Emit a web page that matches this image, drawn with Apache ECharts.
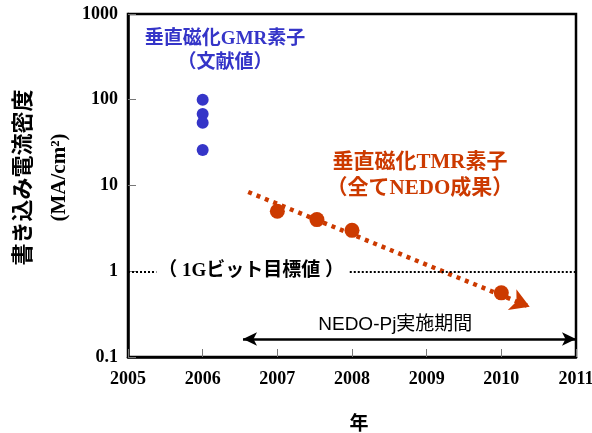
<!DOCTYPE html>
<html><head><meta charset="utf-8">
<script src="https://cdn.jsdelivr.net/npm/echarts@6/dist/echarts.min.js"></script>
<style>html,body{margin:0;padding:0;background:#fff}#c{width:592px;height:433px}</style>
</head><body><div id="c"></div>
<script>
// ---- data ----
const xTicks = [2005, 2006, 2007, 2008, 2009, 2010, 2011];
const yTicks = [0.1, 1, 10, 100, 1000];
const gmrPoints = [[2006, 100], [2006, 68], [2006, 54], [2006, 26]];
const tmrPoints = [[2007, 5], [2007.53, 4], [2008, 3], [2010, 0.56]];
const trendStart = [2006.61, 8.4];
const trendEnd = [2010.38, 0.385];
const targetValue = 1;
const targetSegments = [[2005, 2005.38], [2007.97, 2011]];
const periodStart = 2006.54;
const periodEnd = 2011;
const periodValue = 0.162;
const gmrLabel = ['垂直磁化GMR素子', '（文献値）'];
const gmrLabelAt = [2006.3, 370];
const tmrLabel = ['垂直磁化TMR素子', '（全てNEDO成果）'];
const tmrLabelAt = [2008.91, 13.2];
const targetLabel = '（ 1Gビット目標値 ）';
const targetLabelAt = [2006.65, 1];
const periodLabel = 'NEDO-Pj実施期間';
const periodLabelAt = [2008.58, 0.236];
const yName = ['書き込み電流密度', '(MA/cm²)'];
const xName = '年';

const serifCJK = '"Liberation Serif", "Noto Sans CJK JP", serif';
const sansCJK = '"Liberation Sans", "Noto Sans CJK JP", sans-serif';
const blue = '#3535c8';
const orange = '#cc3a00';

const chart = echarts.init(document.getElementById('c'));
chart.setOption({
  animation: false,
  grid: { left: 128, top: 14, right: 16, bottom: 76, show: true, borderColor: '#000', borderWidth: 2.5,
    containLabel: false, outerBoundsMode: 'none' },
  xAxis: {
    type: 'value', min: xTicks[0], max: xTicks[xTicks.length - 1], interval: 1,
    axisLine: { lineStyle: { color: '#000', width: 2.5 } },
    axisTick: { inside: true, length: 8, lineStyle: { color: '#777' } },
    splitLine: { show: false },
    axisLabel: { color: '#000', fontFamily: serifCJK, fontWeight: 'bold', fontSize: 18, margin: 13,
      formatter: v => String(v) },
    name: xName, nameLocation: 'middle', nameGap: 58,
    nameTextStyle: { color: '#000', fontFamily: sansCJK, fontWeight: 'bold', fontSize: 19, padding: [0, 0, 0, 14] }
  },
  yAxis: {
    type: 'log', logBase: 10, min: yTicks[0], max: yTicks[yTicks.length - 1],
    axisLine: { lineStyle: { color: '#000', width: 2.5 } },
    axisTick: { inside: true, length: 8, lineStyle: { color: '#777' } },
    splitLine: { show: false },
    axisLabel: { color: '#000', fontFamily: serifCJK, fontWeight: 'bold', fontSize: 18, margin: 10,
      formatter: v => (yTicks.includes(+v) ? String(+v) : '') },
    name: '{a|' + yName[0] + '}\n{b|' + yName[1] + '}', nameLocation: 'middle', nameRotate: 90, nameGap: 50,
    nameTextStyle: {
      padding: [0, 0, 0, 16],
      rich: {
        a: { fontFamily: sansCJK, fontWeight: 'bold', fontSize: 22, color: '#000', lineHeight: 36 },
        b: { fontFamily: serifCJK, fontWeight: 'bold', fontSize: 21, color: '#000', lineHeight: 36 }
      }
    }
  },
  series: [
    {
      type: 'scatter', data: gmrPoints, symbolSize: 12, itemStyle: { color: blue, opacity: 1 }, z: 5,
      markPoint: {
        symbol: 'circle', symbolSize: 0, silent: true,
        label: { show: true, position: 'inside', color: blue, fontFamily: serifCJK, fontWeight: 'bold',
          fontSize: 19, lineHeight: 24, align: 'center', formatter: gmrLabel.join('\n') },
        data: [{ coord: gmrLabelAt }]
      }
    },
    {
      type: 'scatter', data: tmrPoints, symbolSize: 15, itemStyle: { color: orange, opacity: 1 }, z: 5,
      markLine: {
        silent: true, symbol: ['none', 'arrow'], symbolSize: [17, 19],
        lineStyle: { color: orange, width: 4.5, type: [4, 5], cap: 'butt', opacity: 1 },
        label: { show: false },
        data: [[{ coord: trendStart }, { coord: trendEnd }]]
      },
      markPoint: {
        symbol: 'circle', symbolSize: 0, silent: true,
        label: { show: true, position: 'inside', color: orange, fontFamily: serifCJK, fontWeight: 'bold',
          fontSize: 21, lineHeight: 26, align: 'center', formatter: tmrLabel.join('\n') },
        data: [{ coord: tmrLabelAt }]
      }
    },
    {
      type: 'line', data: [],
      markLine: {
        silent: true, symbol: ['none', 'none'],
        lineStyle: { color: '#000', width: 2, type: [2, 2], opacity: 1 },
        label: { show: false },
        data: targetSegments.map(s => [{ coord: [s[0], targetValue] }, { coord: [s[1], targetValue] }])
      },
      markPoint: {
        symbol: 'circle', symbolSize: 0, silent: true,
        label: { show: true, position: 'inside', color: '#000', fontFamily: serifCJK, fontWeight: 'bold',
          fontSize: 19, formatter: targetLabel },
        data: [{ coord: targetLabelAt }]
      }
    },
    {
      type: 'line', data: [],
      markLine: {
        silent: true, symbol: ['arrow', 'arrow'], symbolSize: [10, 14],
        lineStyle: { color: '#000', width: 2.5, type: 'solid', opacity: 1 },
        label: { show: false },
        data: [[{ coord: [periodStart, periodValue] }, { coord: [periodEnd, periodValue] }]]
      },
      markPoint: {
        symbol: 'circle', symbolSize: 0, silent: true,
        label: { show: true, position: 'inside', color: '#000', fontFamily: sansCJK,
          fontSize: 19, formatter: periodLabel },
        data: [{ coord: periodLabelAt }]
      }
    }
  ]
});
</script></body></html>
